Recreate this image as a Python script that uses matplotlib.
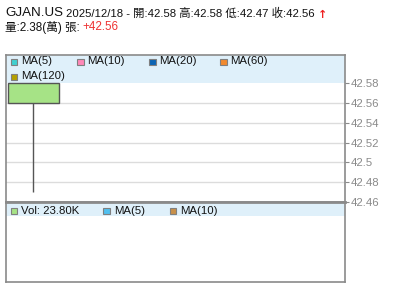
import matplotlib
matplotlib.use("Agg")
import matplotlib.pyplot as plt
from matplotlib.patches import Rectangle

plt.rcParams['font.family'] = ['Liberation Sans', 'Noto Sans CJK TC', 'DejaVu Sans']

ticker = "GJAN.US"
dates = ["2025/12/18"]
opens = [42.58]
highs = [42.58]
lows = [42.47]
closes = [42.56]
volume_k = [23.80]
volume_wan = [2.38]
change = [42.56]
yticks = [42.46, 42.48, 42.50, 42.52, 42.54, 42.56, 42.58]
ytick_labels = ["42.46", "42.48", "42.5", "42.52", "42.54", "42.56", "42.58"]
ma_labels = ["MA(5)", "MA(10)", "MA(20)", "MA(60)", "MA(120)"]
ma_colors = ["#3fd0d0", "#ff88b8", "#0a64b4", "#f28a2e", "#b4a000"]
vol_labels = ["MA(5)", "MA(10)"]
vol_colors = ["#50c0f0", "#c8904a"]

W, H = 400, 301
fig = plt.figure(figsize=(W / 100, H / 100), dpi=100)

def ax_px(l, t, r, b):
    return fig.add_axes([l / W, 1 - b / H, (r - l) / W, (b - t) / H])

border = "#8a8a8a"
band = "#dff0fa"
grid = "#dcdcdc"

# main price axes
ax = ax_px(5.5, 55, 345, 202)
ymin = 42.46
ymax = 42.46 + (202 - 55) / 19.8 * 0.02
ax.set_ylim(ymin, ymax)
ax.set_xlim(-0.5, 5.6)
for y in yticks[1:-1]:
    ax.axhline(y, color=grid, lw=1, zorder=0)
ax.axhspan(yticks[-1], ymax, color=band, lw=0, zorder=0)
x = list(range(len(dates)))
ax.vlines(x, lows, highs, color="#555555", lw=1, zorder=2)
ax.bar(x, [o - c for o, c in zip(opens, closes)], bottom=closes, width=0.91,
       color="#a6e386", edgecolor="#555555", lw=1, zorder=3)
ax.yaxis.tick_right()
ax.set_yticks(yticks)
ax.set_yticklabels(ytick_labels)
ax.tick_params(axis='y', colors=border, labelcolor="#8a8a8a", labelsize=8.2,
               length=3, width=0.8, pad=1)
ax.set_xticks([])
for s in ax.spines.values():
    s.set_color(border)
    s.set_linewidth(1.2)

# main legend
def legend_item(xp, yp, color, label):
    fig.patches.append(Rectangle((xp / W, 1 - (yp + 3.5) / H), 6.5 / W, 6.5 / H,
                                 transform=fig.transFigure, facecolor=color,
                                 edgecolor="#808080", lw=0.8, zorder=5))
    fig.text((xp + 10.5) / W, 1 - yp / H, label, fontsize=8.2, va="center",
             ha="left", color="#111111", zorder=6)

pos = [(10.5, 61.5), (77, 61.5), (149, 61.5), (220, 61.5), (10.5, 76.5)]
for (xp, yp), c, lab in zip(pos, ma_colors, ma_labels):
    legend_item(xp, yp, c, lab)

# volume axes
vax = ax_px(5.5, 202, 345, 282)
vax.set_xlim(-0.5, 5.6)
vax.set_ylim(0, 1)
vax.add_patch(Rectangle((0, 1 - 14 / 80), 1, 14 / 80, transform=vax.transAxes,
                        facecolor=band, lw=0, zorder=0))
vax.set_xticks([])
vax.set_yticks([])
for s in vax.spines.values():
    s.set_color(border)
    s.set_linewidth(1.2)
vax.spines['top'].set_linewidth(2)

legend_item(10.5, 210.5, "#a6e386", f"Vol: {volume_k[0]:.2f}K")
legend_item(103.5, 210.5, vol_colors[0], vol_labels[0])
legend_item(169.5, 210.5, vol_colors[1], vol_labels[1])

# header
fig.text(5 / W, 1 - 13 / H, ticker, fontsize=9.6, va="center", ha="left", color="#111111")
fig.text(66 / W, 1 - 13.5 / H,
         f"{dates[0]} - 開:{opens[0]:.2f} 高:{highs[0]:.2f} 低:{lows[0]:.2f} 收:{closes[0]:.2f}",
         fontsize=8.2, va="center", ha="left", color="#111111")
fig.text(318 / W, 1 - 14.5 / H, "↑", fontsize=8, va="center", ha="left",
         color="#ee2222", fontweight="bold", family=['DejaVu Sans'])
fig.text(5 / W, 1 - 27.5 / H, f"量:{volume_wan[0]:.2f}(萬) 張:", fontsize=8.4,
         va="center", ha="left", color="#111111")
fig.text(82 / W, 1 - 27.5 / H, f"+{change[0]:.2f}", fontsize=8.4, va="center",
         ha="left", color="#ee3333")

fig.savefig("out.png", dpi=100)
